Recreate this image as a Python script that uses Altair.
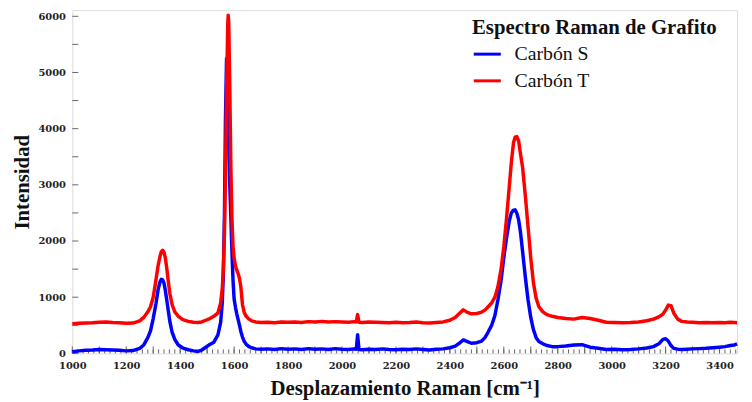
import altair as alt
import pandas as pd

# Raman shift (cm^-1)
shift = [1000,1025,1050,1075,1100,1125,1150,1175,1200,1225,1250,1265,1280,1290,1300,1310,1318,1325,1330,1335,
         1340,1345,1350,1356,1362,1370,1380,1393,1410,1430,1450,1466,1480,1495,1510,1525,1540,1550,1556,1560,
         1564,1568,1572,1576,1578,1580,1584,1588,1592,1596,1600,1605,1610,1615,1620,1625,1631,1638,1645,1655,
         1665,1680,1700,1725,1750,1775,1800,1825,1850,1875,1900,1925,1950,1975,2000,2025,2045,2053,2058,2063,
         2075,2100,2125,2150,2175,2200,2225,2250,2275,2300,2325,2350,2375,2400,2420,2435,2450,2465,2480,2500,
         2518,2530,2542,2555,2567,2578,2590,2600,2610,2620,2628,2636,2642,2648,2655,2662,2670,2680,2690,2700,
         2710,2720,2730,2745,2760,2780,2800,2830,2860,2890,2920,2950,2980,3010,3040,3070,3100,3130,3155,3175,
         3190,3200,3210,3220,3230,3245,3260,3280,3300,3325,3350,3375,3400,3420,3440,3455,3465]

carbon_s = [30,45,55,60,70,65,60,55,45,50,90,150,280,400,620,880,1130,1270,1320,1310,
            1250,1120,960,760,560,380,250,150,95,65,45,35,60,110,160,200,330,550,900,1400,
            2400,4200,5250,4700,4200,3700,3000,2400,1800,1300,970,820,700,600,500,390,290,210,160,120,
            100,80,75,80,70,85,75,80,70,85,75,80,70,85,75,70,80,75,330,70,
            65,75,70,80,70,65,75,70,80,70,60,75,80,100,130,180,240,210,180,190,
            220,280,380,500,675,950,1300,1700,2050,2350,2500,2550,2555,2500,2380,2150,1800,1350,950,640,
            420,280,210,170,140,120,120,130,150,155,110,90,70,75,65,70,80,95,120,170,
            250,260,220,140,90,75,70,75,80,85,90,100,110,120,140,150,170]

carbon_t = [528,535,540,545,555,560,550,545,535,540,580,640,740,830,1000,1300,1560,1720,1810,1835,
            1800,1700,1530,1280,1060,870,740,660,600,570,555,550,560,590,620,660,720,900,1150,1500,
            2100,3200,4600,5800,6020,5900,4700,3300,2400,1900,1700,1560,1480,1420,1330,1180,870,720,660,610,
            580,560,550,555,545,560,555,560,550,565,560,570,560,565,560,555,565,560,690,555,
            550,560,555,550,545,555,545,550,560,545,540,550,560,590,640,710,775,730,705,710,
            735,770,830,900,1000,1180,1500,1900,2400,2950,3400,3750,3850,3860,3780,3550,3300,2800,2250,1700,
            1250,980,830,740,690,660,640,620,610,640,620,590,555,550,545,550,560,580,610,650,
            700,770,860,850,720,610,570,560,555,545,550,545,550,545,555,550,545]

series_names = ["Carbón S", "Carbón T"]
series_colors = ["#0000FF", "#FF0000"]

y_ticks = [0, 500, 1000, 1500, 2000, 2500, 3000, 3500, 4000, 4500, 5000, 5500, 6000]
x_ticks = [1000, 1200, 1400, 1600, 1800, 2000, 2200, 2400, 2600, 2800, 3000, 3200, 3400]
x_minor = list(range(1000, 3466, 20))
x_mid = list(range(1000, 3466, 100))

X_DOMAIN = [1000, 3465]
Y_DOMAIN = [0, 6110]
W, H = 672, 347

rows = []
for name, ys in zip(series_names, [carbon_s, carbon_t]):
    for xv, yv in zip(shift, ys):
        rows.append({"x": xv, "y": yv, "serie": name})
df = pd.DataFrame(rows)

xscale = alt.Scale(domain=X_DOMAIN, nice=False, zero=False)
yscale = alt.Scale(domain=Y_DOMAIN, nice=False, zero=False)

TICK_FONT = "DejaVu Serif"
TITLE_FONT = "Liberation Serif"

lines = alt.Chart(df).mark_line(strokeWidth=3.5, strokeJoin="round").encode(
    x=alt.X("x:Q", scale=xscale,
            axis=alt.Axis(values=x_ticks, format="d", title="Desplazamiento Raman [cm⁻¹]", ticks=False,
                          domain=False, grid=False, labelFont=TICK_FONT, labelFontWeight="bold",
                          labelFontSize=10, labelColor="#222", labelPadding=7, titleFont=TITLE_FONT,
                          titleFontSize=21, titleFontWeight="bold", titleColor="#111", titlePadding=8,
                          labelOverlap=False, labelFlush=False)),
    y=alt.Y("y:Q", scale=yscale,
            axis=alt.Axis(values=y_ticks, format="d", title="Intensidad", ticks=False, domain=False,
                          grid=False, labelFont=TICK_FONT, labelFontWeight="bold", labelFontSize=10,
                          labelColor="#222", labelPadding=7, titleFont=TITLE_FONT, titleFontSize=21,
                          titleFontWeight="bold", titleColor="#111", titlePadding=5,
                          labelOverlap=False)),
    color=alt.Color("serie:N", scale=alt.Scale(domain=series_names, range=series_colors),
                    legend=alt.Legend(title="Espectro Raman de Grafito", orient="none",
                                      legendX=404, legendY=7, titleFont=TITLE_FONT, titleFontSize=21,
                                      titleFontWeight="bold", titleColor="#111", titleLimit=400,
                                      labelFont=TITLE_FONT, labelLimit=300,
                                      labelFontSize=20, labelColor="#111", symbolType="stroke",
                                      symbolSize=750, symbolStrokeWidth=3, rowPadding=1,
                                      titlePadding=1, labelOffset=12)),
    detail="serie:N",
)

tick_minor = alt.Chart(pd.DataFrame({"v": x_minor})).mark_rule(color="#666", strokeWidth=1).encode(
    x=alt.X("v:Q", scale=xscale), y=alt.value(H), y2=alt.value(H - 4))
tick_mid = alt.Chart(pd.DataFrame({"v": x_mid})).mark_rule(color="#666", strokeWidth=1).encode(
    x=alt.X("v:Q", scale=xscale), y=alt.value(H), y2=alt.value(H - 7))
tick_y = alt.Chart(pd.DataFrame({"v": y_ticks})).mark_rule(color="#666", strokeWidth=1).encode(
    y=alt.Y("v:Q", scale=yscale), x=alt.value(0), x2=alt.value(6))

chart = alt.layer(tick_minor, tick_mid, tick_y, lines).properties(
    width=W, height=H,
    autosize=alt.AutoSizeParams(type="none"),
    padding={"left": 65, "top": 0, "right": 7, "bottom": 47},
).configure_view(stroke="#888", strokeWidth=2).configure(background="white")

chart.save("out.html", embed_options={"renderer": "svg", "actions": False})
